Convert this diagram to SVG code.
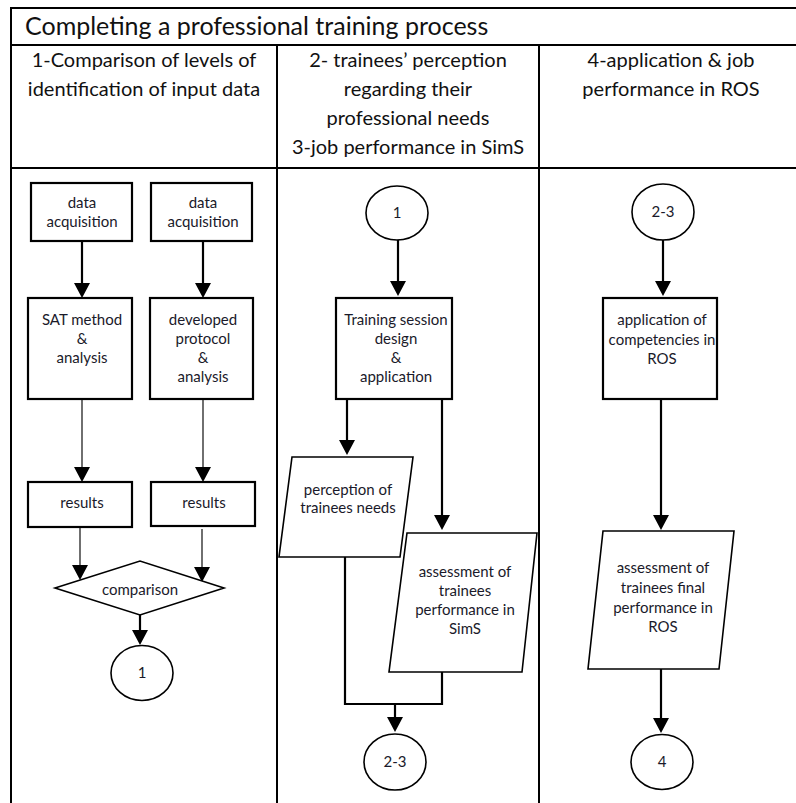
<svg xmlns="http://www.w3.org/2000/svg" width="796" height="803" viewBox="0 0 796 803">
<defs>
<style>
.hd{font-family:Lato,"Open Sans","Liberation Sans",sans-serif;font-size:20px;fill:#111;text-anchor:middle}
.tt{font-family:Lato,"Open Sans","Liberation Sans",sans-serif;font-size:25px;fill:#111}
.t{font-family:Lato,"Open Sans","Liberation Sans",sans-serif;font-size:15px;fill:#1a1a2a;text-anchor:middle}
.bx{fill:#fff;stroke:#000;stroke-width:2.2}
.sh{fill:#fff;stroke:#000;stroke-width:1.6}
.grid{fill:none;stroke:#000;stroke-width:2}
.c{fill:none;stroke:#000;stroke-width:2.2}
.cthin{fill:none;stroke:#333;stroke-width:1.4}
</style>
<marker id="ah" markerUnits="userSpaceOnUse" markerWidth="16" markerHeight="16" viewBox="0 0 15 16" refX="10" refY="8" orient="auto">
<path d="M0,0 L15,8 L0,16 z" fill="#000"/>
</marker>
</defs>
<rect width="796" height="803" fill="#fff"/>

<g id="table">
<path class="grid" d="M11,803 V8 H800 M11,45 H800 M11,168 H800 M277,45 V803 M539,45 V803"/>
<text class="tt" x="25" y="35">Completing a professional training process</text>
<text class="hd" x="144" y="67">1-Comparison of levels of</text>
<text class="hd" x="144" y="96">identification of input data</text>
<text class="hd" x="408" y="67">2- trainees’ perception</text>
<text class="hd" x="408" y="96">regarding their</text>
<text class="hd" x="408" y="125">professional needs</text>
<text class="hd" x="408" y="154">3-job performance in SimS</text>
<text class="hd" x="671" y="67">4-application &amp; job</text>
<text class="hd" x="671" y="96">performance in ROS</text>
</g>

<g id="connectors">
<path class="c" d="M82,241 V293" marker-end="url(#ah)"/>
<path class="c" d="M203,241 V293" marker-end="url(#ah)"/>
<path class="cthin" d="M82,399 V477" marker-end="url(#ah)"/>
<path class="cthin" d="M203,399 V477" marker-end="url(#ah)"/>
<path class="cthin" d="M80,527 V575" marker-end="url(#ah)"/>
<path class="cthin" d="M202,529 V577" marker-end="url(#ah)"/>
<path class="c" d="M140,615 V640" marker-end="url(#ah)"/>
<path class="c" d="M398,240 V291" marker-end="url(#ah)"/>
<path class="c" d="M347,399 V450" marker-end="url(#ah)"/>
<path class="c" d="M442,399 V525" marker-end="url(#ah)"/>
<path class="c" d="M345,557 V704 H442 V672"/>
<path class="c" d="M395,704 V727" marker-end="url(#ah)"/>
<path class="c" d="M663,240 V291" marker-end="url(#ah)"/>
<path class="c" d="M661,399 V525" marker-end="url(#ah)"/>
<path class="c" d="M661,669 V728" marker-end="url(#ah)"/>
</g>

<g id="n_acq1">
<rect class="bx" x="31" y="183" width="101" height="58"/>
<text class="t" x="82" y="208">data</text>
<text class="t" x="82" y="227">acquisition</text>
</g>
<g id="n_acq2">
<rect class="bx" x="151" y="183" width="101" height="58"/>
<text class="t" x="203" y="208">data</text>
<text class="t" x="203" y="227">acquisition</text>
</g>
<g id="n_sat">
<rect class="bx" x="28" y="298" width="104" height="101"/>
<text class="t" x="82" y="325">SAT method</text>
<text class="t" x="82" y="344">&amp;</text>
<text class="t" x="82" y="363">analysis</text>
</g>
<g id="n_dev">
<rect class="bx" x="150" y="298" width="103" height="101"/>
<text class="t" x="203" y="325">developed</text>
<text class="t" x="203" y="344">protocol</text>
<text class="t" x="203" y="363">&amp;</text>
<text class="t" x="203" y="382">analysis</text>
</g>
<g id="n_res1">
<rect class="bx" x="28" y="482" width="104" height="45"/>
<text class="t" x="82" y="508">results</text>
</g>
<g id="n_res2">
<rect class="bx" x="151" y="482" width="104" height="44"/>
<text class="t" x="204" y="508">results</text>
</g>
<g id="n_cmp">
<polygon class="sh" points="55,588 140,561 224,588 140,615"/>
<text class="t" x="140" y="595">comparison</text>
</g>
<g id="n_c1a">
<ellipse class="sh" cx="142" cy="673" rx="31" ry="27.5"/>
<text class="t" x="142" y="678">1</text>
</g>

<g id="n_c1b">
<ellipse class="sh" cx="397" cy="213" rx="31" ry="27"/>
<text class="t" x="397" y="218">1</text>
</g>
<g id="n_train">
<rect class="bx" x="336" y="298" width="116" height="101"/>
<text class="t" x="396" y="325">Training session</text>
<text class="t" x="396" y="344">design</text>
<text class="t" x="396" y="363">&amp;</text>
<text class="t" x="396" y="382">application</text>
</g>
<g id="n_perc">
<polygon class="sh" points="292,457 413,457 400,557 279,557"/>
<text class="t" x="348" y="495">perception of</text>
<text class="t" x="348" y="513">trainees needs</text>
</g>
<g id="n_assess1">
<polygon class="sh" points="407,533 537,533 522,672 389,672"/>
<text class="t" x="465" y="577">assessment of</text>
<text class="t" x="465" y="596">trainees</text>
<text class="t" x="465" y="615">performance in</text>
<text class="t" x="465" y="634">SimS</text>
</g>
<g id="n_c23b">
<ellipse class="sh" cx="395" cy="762" rx="31" ry="28"/>
<text class="t" x="395" y="767">2-3</text>
</g>

<g id="n_c23a">
<ellipse class="sh" cx="663" cy="212" rx="31" ry="28"/>
<text class="t" x="663" y="217">2-3</text>
</g>
<g id="n_appl">
<rect class="bx" x="603" y="298" width="114" height="101"/>
<text class="t" x="662" y="325">application of</text>
<text class="t" x="662" y="345">competencies in</text>
<text class="t" x="662" y="364">ROS</text>
</g>
<g id="n_assess2">
<polygon class="sh" points="603,531 734,531 719,669 588,669"/>
<text class="t" x="663" y="573">assessment of</text>
<text class="t" x="663" y="593">trainees  final</text>
<text class="t" x="663" y="613">performance in</text>
<text class="t" x="663" y="632">ROS</text>
</g>
<g id="n_c4">
<ellipse class="sh" cx="662" cy="762" rx="31" ry="27.5"/>
<text class="t" x="662" y="767">4</text>
</g>
</svg>
